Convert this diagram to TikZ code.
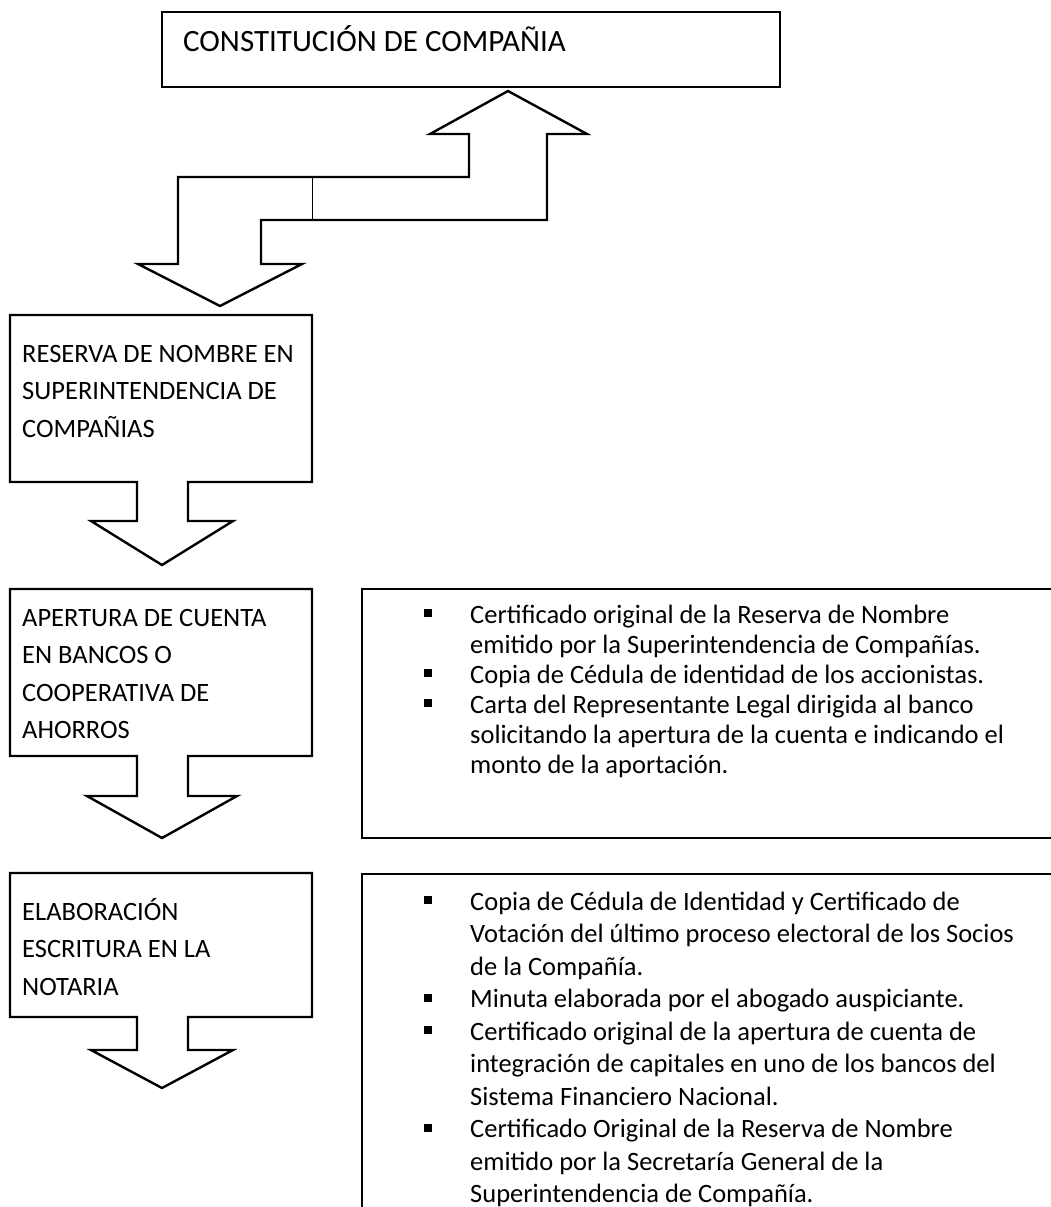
\documentclass[tikz,border=0pt]{standalone}
\usepackage{fontspec}
\setmainfont{Carlito}
\begin{document}
\begin{tikzpicture}[x=1pt,y=-1pt]
\tikzset{
  shapeline/.style={draw=black, line width=2.4pt, line join=miter},
  thinline/.style={draw=black, line width=0.9pt},
  ttl/.style={anchor=base west, inner sep=0pt, font=\fontsize{31}{37}\selectfont},
  ltxt/.style={anchor=base west, inner sep=0pt, font=\fontsize{26.5}{32}\selectfont},
  rtxt/.style={anchor=base west, inner sep=0pt, font=\fontsize{26.5}{32}\selectfont},
  bsq/.style={fill=black},
}
\useasboundingbox (0,0) rectangle (1051,1207);
\clip (0,0) rectangle (1051,1207);
\fill[white] (0,0) rectangle (1051,1207);

% top box
\draw[shapeline] (162,12) rectangle (780,87);
\node[ttl] (title) at (183,52) {CONSTITUCIÓN DE COMPAÑIA};

% double bent arrow
\draw[shapeline] (508,91) -- (587,134) -- (547,134) -- (547,220) -- (261,220) -- (261,264)
  -- (302,264) -- (220,306) -- (138,264) -- (178,264) -- (178,177) -- (469,177)
  -- (469,134) -- (430,134) -- cycle;
\draw[thinline] (312,177) -- (312,220);

% callout 1
\draw[shapeline] (10,315) -- (312,315) -- (312,482) -- (188,482) -- (188,521) -- (233,521)
  -- (162,565) -- (91,521) -- (137,521) -- (137,482) -- (10,482) -- cycle;
\node[ltxt] (r1) at (22,362) {RESERVA DE NOMBRE EN};
\node[ltxt] (r2) at (22,399.5) {SUPERINTENDENCIA DE};
\node[ltxt] (r3) at (22,437) {COMPAÑIAS};

% callout 2
\draw[shapeline] (10,589) -- (312,589) -- (312,756) -- (188,756) -- (188,796) -- (237,796)
  -- (162,838) -- (87,796) -- (137,796) -- (137,756) -- (10,756) -- cycle;
\node[ltxt] (p1) at (22,626) {APERTURA DE CUENTA};
\node[ltxt] (p2) at (22,663.5) {EN BANCOS O};
\node[ltxt] (p3) at (22,701) {COOPERATIVA DE};
\node[ltxt] (p4) at (22,738.5) {AHORROS};

% callout 3
\draw[shapeline] (10,873) -- (312,873) -- (312,1017) -- (188,1017) -- (188,1050) -- (233,1050)
  -- (162,1088) -- (91,1050) -- (137,1050) -- (137,1017) -- (10,1017) -- cycle;
\node[ltxt] (e1) at (22,920) {ELABORACIÓN};
\node[ltxt] (e2) at (22,957.5) {ESCRITURA EN LA};
\node[ltxt] (e3) at (22,995) {NOTARIA};

% right box A
\draw[shapeline] (362,589) rectangle (1070,838);
\node[rtxt] (a1) at (470,623) {Certificado original de la Reserva de Nombre};
\node[rtxt] (a2) at (470,653) {emitido por la Superintendencia de Compañías.};
\node[rtxt] (a3) at (470,683) {Copia de Cédula de identidad de los accionistas.};
\node[rtxt] (a4) at (470,713) {Carta del Representante Legal dirigida al banco};
\node[rtxt] (a5) at (470,743) {solicitando la apertura de la cuenta e indicando el};
\node[rtxt] (a6) at (470,773) {monto de la aportación.};
\foreach \yy in {623,683,713} \fill[bsq] (424,\yy-14) rectangle ++(8,8);

% right box B
\draw[shapeline] (362,1230) -- (362,874) -- (1070,874) -- (1070,1230);
\node[rtxt] (b1) at (470,910) {Copia de Cédula de Identidad y Certificado de};
\node[rtxt] (b2) at (470,942.5) {Votación del último proceso electoral de los Socios};
\node[rtxt] (b3) at (470,975) {de la Compañía.};
\node[rtxt] (b4) at (470,1007.5) {Minuta elaborada por el abogado auspiciante.};
\node[rtxt] (b5) at (470,1040) {Certificado original de la apertura de cuenta de};
\node[rtxt] (b6) at (470,1072.5) {integración de capitales en uno de los bancos del};
\node[rtxt] (b7) at (470,1105) {Sistema Financiero Nacional.};
\node[rtxt] (b8) at (470,1137.5) {Certificado Original de la Reserva de Nombre};
\node[rtxt] (b9) at (470,1170) {emitido por la Secretaría General de la};
\node[rtxt] (b10) at (470,1202.5) {Superintendencia de Compañía.};
\foreach \yy in {910,1007.5,1040,1137.5} \fill[bsq] (424,\yy-14) rectangle ++(8,8);
\end{tikzpicture}
\end{document}
